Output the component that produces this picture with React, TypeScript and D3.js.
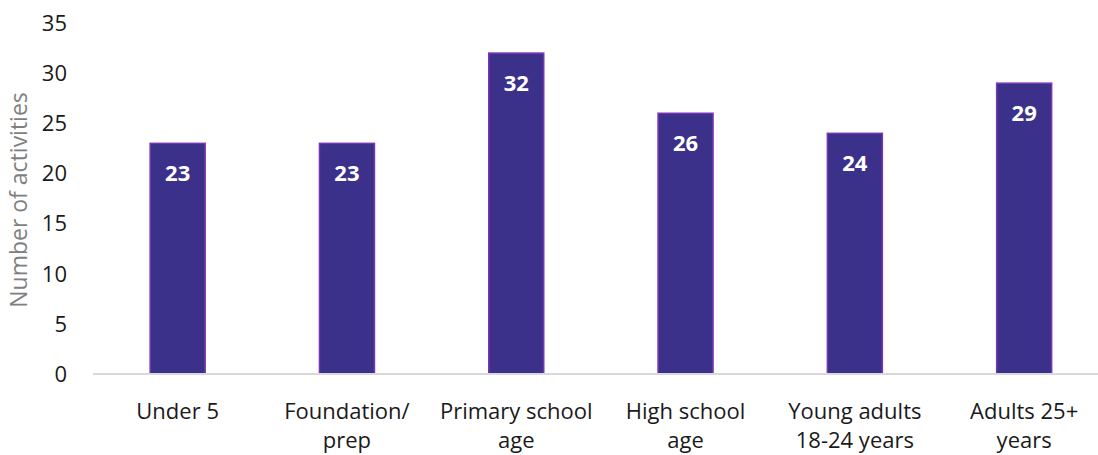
import React from "react";
import * as d3 from "d3";

const categories: string[][] = [
  ["Under 5"],
  ["Foundation/", "prep"],
  ["Primary school", "age"],
  ["High school", "age"],
  ["Young adults", "18-24 years"],
  ["Adults 25+", "years"],
];
const values: number[] = [23, 23, 32, 26, 24, 29];
const yTicks: number[] = [0, 5, 10, 15, 20, 25, 30, 35];
const yTitle = "Number of activities";

const W = 1098;
const H = 455;
const left = 93;
const step = 169.3;
const top = 23;
const bottom = 374;
const font = "'Open Sans', 'Noto Sans', sans-serif";

export default function App() {
  const x = d3
    .scaleBand<number>()
    .domain(values.map((_, i) => i))
    .range([left, left + step * values.length])
    .paddingInner(55 / step > 0 ? 1 - 55 / step : 0.67)
    .paddingOuter((1 - 55 / step) / 2);
  const y = d3.scaleLinear().domain([0, 35]).range([bottom, top]);

  return (
    <svg
      width={W}
      height={H}
      style={{ position: "absolute", left: 0, top: 0 }}
      fontFamily={font}
    >
      {yTicks.map((t) => (
        <text
          key={t}
          x={67}
          y={y(t)}
          dy="0.36em"
          textAnchor="end"
          fontSize={22}
          fill="#1a1a1a"
        >
          {t}
        </text>
      ))}
      <text
        transform={`translate(27,${200}) rotate(-90)`}
        textAnchor="middle"
        fontSize={23}
        fill="#7f7f7f"
      >
        {yTitle}
      </text>
      {values.map((v, i) => (
        <g key={i}>
          <rect
            x={x(i)!}
            y={y(v)}
            width={x.bandwidth()}
            height={bottom - y(v)}
            fill="#3c318a"
            stroke="#7a35b5"
            strokeWidth={1.5}
          />
          <text
            x={x(i)! + x.bandwidth() / 2}
            y={y(v) + 30}
            dy="0.36em"
            textAnchor="middle"
            fontSize={22}
            fontWeight="bold"
            fill="#fff"
          >
            {v}
          </text>
        </g>
      ))}
      <line x1={left} x2={W} y1={bottom} y2={bottom} stroke="#d9d9d9" strokeWidth={2} />
      {categories.map((lines, i) => (
        <text
          key={i}
          x={x(i)! + x.bandwidth() / 2}
          textAnchor="middle"
          fontSize={22}
          fill="#1a1a1a"
        >
          {lines.map((l, j) => (
            <tspan key={j} x={x(i)! + x.bandwidth() / 2} y={419 + j * 29}>
              {l}
            </tspan>
          ))}
        </text>
      ))}
    </svg>
  );
}
